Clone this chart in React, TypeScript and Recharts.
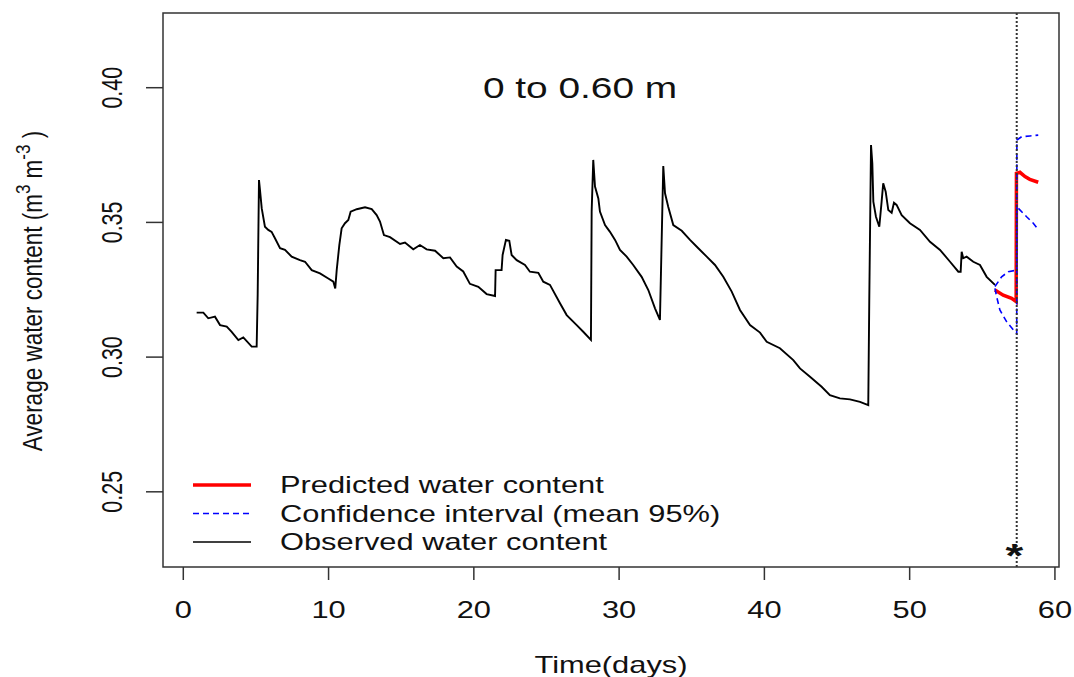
import {LineChart, Line, XAxis, YAxis, ReferenceArea, ReferenceLine, ReferenceDot} from 'recharts';

const FONT = '"Liberation Sans", Arial, sans-serif';
const SX = 1.34; // the reference is stretched sideways

const xTicks = [0, 10, 20, 30, 40, 50, 60];
const yTicks = [0.25, 0.30, 0.35, 0.40];
const xDomain = [-1.397, 60.28];
const yDomain = [0.22209, 0.42773];

// observed water content
const obsDays = [0.92, 1.38, 1.72, 2.18, 2.53, 2.99, 3.33, 3.79, 4.13, 4.71, 5.05, 5.12, 5.21, 5.28, 5.40, 5.62, 5.85, 6.08, 6.31, 6.66,
    7.00, 7.46, 8.03, 8.38, 8.84, 9.41, 9.98, 10.33, 10.46, 10.56, 10.74, 10.90, 11.13, 11.36, 11.52, 11.94, 12.51, 12.97, 13.31, 13.54,
    13.81, 14.23, 14.92, 15.26, 15.83, 16.29, 16.75, 17.33, 17.90, 18.36, 18.82, 19.27, 19.73, 20.31, 20.88, 21.46, 21.50, 21.91, 21.98, 22.21,
    22.44, 22.60, 22.95, 23.52, 23.86, 24.44, 24.78, 25.24, 25.93, 26.39, 27.08, 27.53, 28.06, 28.11, 28.22, 28.34, 28.57, 28.68, 29.03, 29.37,
    29.72, 30.06, 30.52, 30.97, 31.55, 32.01, 32.47, 32.81, 32.88, 33.04, 33.16, 33.38, 33.73, 34.31, 34.88, 35.45, 36.03, 36.60, 37.17, 37.75,
    38.32, 39.01, 39.70, 40.16, 41.07, 41.99, 42.45, 43.14, 43.94, 44.51, 45.20, 45.89, 46.58, 47.15, 47.22, 47.34, 47.43, 47.50, 47.68, 47.91,
    48.07, 48.18, 48.35, 48.53, 48.76, 48.92, 49.10, 49.45, 50.02, 50.71, 51.40, 52.09, 52.78, 53.35, 53.51, 53.58, 53.69, 53.92, 54.38, 54.84,
    55.30, 55.87];
const obsWater = [0.3165, 0.3165, 0.3144, 0.3150, 0.3119, 0.3113, 0.3094, 0.3063, 0.3073, 0.3039, 0.3039, 0.3231, 0.3657, 0.3620, 0.3552, 0.3484, 0.3472, 0.3465, 0.3441, 0.3404,
    0.3398, 0.3373, 0.3360, 0.3354, 0.3323, 0.3311, 0.3292, 0.3280, 0.3255, 0.3323, 0.3416, 0.3478, 0.3497, 0.3509, 0.3540, 0.3549, 0.3556, 0.3549, 0.3527, 0.3503,
    0.3453, 0.3445, 0.3420, 0.3425, 0.3400, 0.3416, 0.3400, 0.3395, 0.3367, 0.3370, 0.3336, 0.3318, 0.3272, 0.3261, 0.3234, 0.3227, 0.3323, 0.3323, 0.3379, 0.3435,
    0.3432, 0.3379, 0.3360, 0.3342, 0.3317, 0.3313, 0.3280, 0.3268, 0.3200, 0.3156, 0.3119, 0.3094, 0.3064, 0.3540, 0.3732, 0.3633, 0.3589, 0.3540, 0.3490, 0.3465,
    0.3435, 0.3398, 0.3373, 0.3342, 0.3298, 0.3249, 0.3181, 0.3138, 0.3311, 0.3709, 0.3608, 0.3558, 0.3490, 0.3469, 0.3435, 0.3404, 0.3373, 0.3342, 0.3298, 0.3243,
    0.3175, 0.3119, 0.3091, 0.3057, 0.3033, 0.2989, 0.2958, 0.2927, 0.2890, 0.2859, 0.2847, 0.2843, 0.2834, 0.2822, 0.3212, 0.3787, 0.3719, 0.3577, 0.3521, 0.3484,
    0.3577, 0.3645, 0.3614, 0.3546, 0.3536, 0.3573, 0.3565, 0.3527, 0.3497, 0.3472, 0.3428, 0.3398, 0.3354, 0.3317, 0.3317, 0.3391, 0.3367, 0.3373, 0.3354, 0.3342,
    0.3298, 0.3268];

// predicted water content
const predDays = [55.87, 56.44, 57.02, 57.33, 57.35, 57.59, 57.94, 58.27, 58.85];
const predWater = [0.3249, 0.3230, 0.3218, 0.3206, 0.3682, 0.3686, 0.3670, 0.3660, 0.3649];

// confidence interval (mean 95%)
const upperDays = [55.87, 56.33, 56.79, 57.18, 57.37, 57.38, 57.71, 58.28, 58.85];
const upperWater = [0.3262, 0.3298, 0.3317, 0.3321, 0.3318, 0.3806, 0.3818, 0.3821, 0.3824];
const lowerDays = [55.87, 55.99, 56.21, 56.68, 57.25, 57.37, 57.38, 58.05, 58.51, 58.85];
const lowerWater = [0.3255, 0.3224, 0.3175, 0.3131, 0.3094, 0.3088, 0.3558, 0.3521, 0.3497, 0.3474];

const forecastDay = 57.37;
const title = '0 to 0.60 m';

const toRows = (days: number[], vals: number[]) => days.map((d, i) => ({d, v: vals[i]}));

const observed = toRows(obsDays, obsWater);
const predicted = toRows(predDays, predWater);
const upper = toRows(upperDays, upperWater);
const lower = toRows(lowerDays, lowerWater);

const legendItems = [
    {label: 'Predicted water content', color: '#ff0000', width: 3.5, dash: undefined},
    {label: 'Confidence interval (mean 95%)', color: '#0000ff', width: 1.5, dash: '6 4'},
    {label: 'Observed water content', color: '#000000', width: 1.5, dash: undefined},
];

const XTick = (props: any) => {
    const {x, y, payload} = props;
    return (
        <text transform={`translate(${x},${y + 38}) scale(${SX},1)`} textAnchor="middle"
              fontFamily={FONT} fontSize={23} fill="#111">{payload.value}</text>
    );
};

const YTick = (props: any) => {
    const {x, y, payload} = props;
    return (
        <text transform={`translate(${x - 34},${y}) scale(${SX},1) rotate(-90)`} textAnchor="middle" dy="0.36em"
              fontFamily={FONT} fontSize={21.5} fill="#111">{Number(payload.value).toFixed(2)}</text>
    );
};

const XTitle = (props: any) => {
    const vb = props.viewBox;
    return (
        <text transform={`translate(${vb.x + vb.width / 2},673) scale(${SX},1)`} textAnchor="middle"
              fontFamily={FONT} fontSize={23} fill="#111">Time(days)</text>
    );
};

const YTitle = (props: any) => {
    const vb = props.viewBox;
    return (
        <text transform={`translate(42,${vb.y + vb.height / 2 + 1}) scale(1.2,1) rotate(-90)`} textAnchor="middle"
              fontFamily={FONT} fontSize={22.5} fill="#111">
            Average water content (m
            <tspan dy={-10} fontSize={17}>3</tspan>
            <tspan dy={10}> m</tspan>
            <tspan dy={-10} fontSize={17}>-3</tspan>
            <tspan dy={10}> )</tspan>
        </text>
    );
};

const TitleText = (props: any) => (
    <text transform={`translate(${props.cx},${props.cy}) scale(${SX},1)`} textAnchor="middle" dy="0.36em"
          fontFamily={FONT} fontSize={29} fill="#111">{title}</text>
);

const Star = (props: any) => (
    <text transform={`translate(${props.cx},${props.cy}) scale(${SX},1)`} textAnchor="middle" dy={15}
          fontFamily={FONT} fontSize={34} fontWeight="bold" fill="#111">*</text>
);

export default function App() {
    return (
        <div style={{position: 'absolute', left: 0, top: 0, width: 1074, height: 677, background: '#fff'}}>
            <LineChart width={1074} height={677} margin={{top: 13, right: 15, left: 0, bottom: 0}}>
                <XAxis type="number" dataKey="d" domain={xDomain} ticks={xTicks} allowDataOverflow
                       axisLine={false} tickSize={13} tickMargin={0} height={110}
                       tickLine={{stroke: '#333', strokeWidth: 1.5}} tick={XTick} label={XTitle}/>
                <YAxis type="number" dataKey="v" domain={yDomain} ticks={yTicks} allowDataOverflow
                       axisLine={false} tickSize={17} tickMargin={0} width={163}
                       tickLine={{stroke: '#333', strokeWidth: 1.5}} tick={YTick} label={YTitle}/>
                <ReferenceArea x1={xDomain[0]} x2={xDomain[1]} y1={yDomain[0]} y2={yDomain[1]}
                               fill="none" stroke="#333" strokeWidth={1.5} ifOverflow="visible"/>

                <Line data={observed} dataKey="v" type="linear" stroke="#000" strokeWidth={1.9}
                      dot={false} isAnimationActive={false}/>
                <Line data={predicted} dataKey="v" type="linear" stroke="#ff0000" strokeWidth={3.5}
                      dot={false} isAnimationActive={false}/>
                <Line data={upper} dataKey="v" type="linear" stroke="#0000ff" strokeWidth={1.6}
                      strokeDasharray="6 4" dot={false} isAnimationActive={false}/>
                <Line data={lower} dataKey="v" type="linear" stroke="#0000ff" strokeWidth={1.6}
                      strokeDasharray="6 4" dot={false} isAnimationActive={false}/>

                <ReferenceLine x={forecastDay} stroke="#333" strokeWidth={2} strokeDasharray="2 2"/>
                <ReferenceDot x={27.31} y={0.40} r={0} shape={TitleText}/>
                <ReferenceDot x={57.2} y={0.2278} r={0} shape={Star}/>
            </LineChart>
            <svg width={1074} height={677} style={{position: 'absolute', left: 0, top: 0, pointerEvents: 'none'}}>
                {legendItems.map((item, i) => {
                    const y = 485 + i * 28.5;
                    return (
                        <g key={item.label}>
                            <line x1={193} x2={251} y1={y} y2={y} stroke={item.color} strokeWidth={item.width}
                                  strokeDasharray={item.dash}/>
                            <text transform={`translate(280,${y + 8}) scale(${SX},1)`} fontFamily={FONT}
                                  fontSize={23} fill="#111">{item.label}</text>
                        </g>
                    );
                })}
            </svg>
        </div>
    );
}
